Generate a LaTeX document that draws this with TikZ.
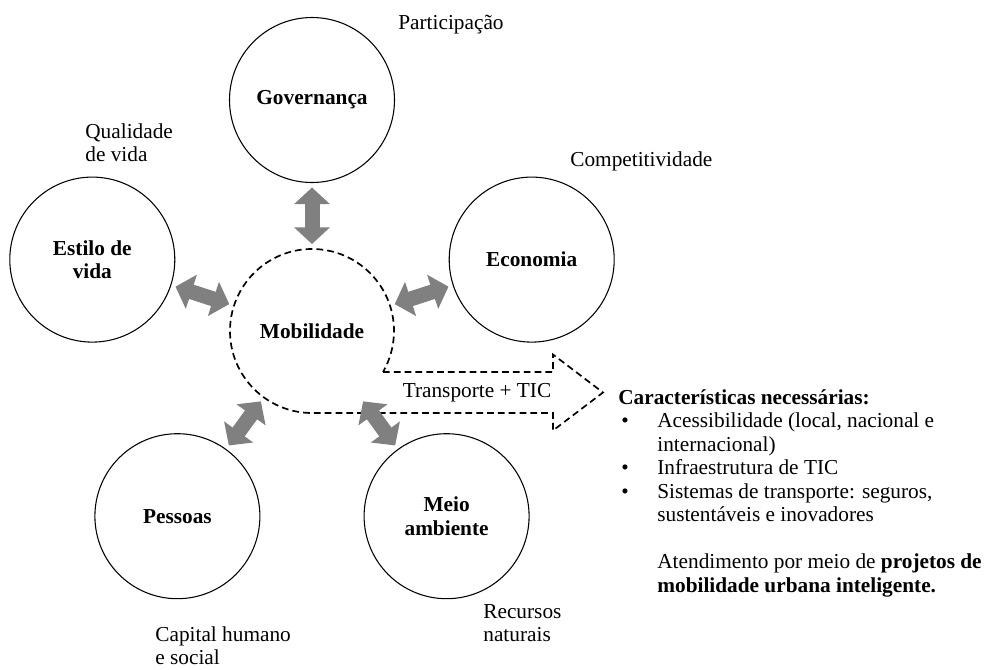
\documentclass[tikz,border=0pt]{standalone}
\usepackage{fontspec}
\setmainfont{Liberation Serif}
\usepackage{tikz}
\usetikzlibrary{arrows.meta}
\definecolor{arrow_gray}{RGB}{128,128,128}

\tikzset{
 sphere/.style={circle, draw, line width=0.6pt, minimum size=92.96pt, inner sep=0pt, outer sep=0pt, font=\fontsize{12}{13.2}\selectfont\bfseries, align=center},
 link/.style={draw=arrow_gray, line width=8.45pt, {Triangle[length=9.4pt,width=19.7pt]}-{Triangle[length=9.4pt,width=19.7pt]}, shorten <=2.8pt, shorten >=2.8pt},
 txt/.style={anchor=base west, inner sep=0pt},
}

\begin{document}
\begin{tikzpicture}[x=0.5634pt, y=-0.5634pt, font=\fontsize{12}{13.2}\selectfont]
\useasboundingbox (0,0) rectangle (985,669);

% five circles round Mobilidade
\coordinate (M) at (312,331);
\node[sphere] (gov) at (312,100) {Governança};
\node[sphere] (est) at (92.3,259.6) {Estilo de\\vida};
\node[sphere] (eco) at (531.7,259.6) {Economia};
\node[sphere] (pes) at (177.4,516.2) {Pessoas};
\node[sphere] (mei) at (446.6,516.2) {Meio\\ambiente};
\node[sphere, draw=none, minimum size=92.4pt] (mob) at (M) {Mobilidade};

% dashed outline: circle and arrow
\coordinate (T1) at (383,372);
\coordinate (T2) at (553,372);
\coordinate (T3) at (553,354.5);
\coordinate (tip) at (603,392.5);
\coordinate (B3) at (553,430.5);
\coordinate (B2) at (553,413);
\coordinate (B1) at (312,413);
\draw[line width=0.95pt, dash pattern=on 3.8pt off 2.3pt] (T1) -- (T2) -- (T3) -- (tip) -- (B3) -- (B2) -- (B1) arc[start angle=270, end angle=-30, radius=46.2pt] -- cycle;
\node (tic) at (477,392.5) {Transporte + TIC};

% double arrows
\draw[link] (mob) -- (gov);
\draw[link] (mob) -- (est);
\draw[link] (mob) -- (eco);
\draw[link] (mob) -- (pes);
\draw[link] (mob) -- (mei);

% labels
\node[txt] (part) at (398,29) {Participação};
\node[txt] (qual1) at (85,138) {Qualidade};
\node[txt] (qual2) at (85,161.5) {de vida};
\node[txt] (comp) at (570,166) {Competitividade};
\node[txt] (cap1) at (155,641) {Capital humano};
\node[txt] (cap2) at (155,664.5) {e social};
\node[txt] (rec1) at (483,618) {Recursos};
\node[txt] (rec2) at (483,641.5) {naturais};

% list on the right
\node[txt] (head) at (618,404) {\textbf{Características necessárias:}};
\node[txt] (d1) at (621,427.5) {\textbullet};
\node[txt] (l1) at (657,427.5) {Acessibilidade (local, nacional e};
\node[txt] (l1b) at (657,451) {internacional)};
\node[txt] (d2) at (621,474.5) {\textbullet};
\node[txt] (l2) at (657,474.5) {Infraestrutura de TIC};
\node[txt] (d3) at (621,498) {\textbullet};
\node[txt] (l3) at (657,498) {Sistemas de transporte: seguros,};
\node[txt] (l3b) at (657,521.5) {sustentáveis e inovadores};
\node[txt] (at1) at (657,568.5) {Atendimento por meio de \textbf{projetos de}};
\node[txt] (at2) at (657,592) {\textbf{mobilidade urbana inteligente.}};
\end{tikzpicture}
\end{document}
